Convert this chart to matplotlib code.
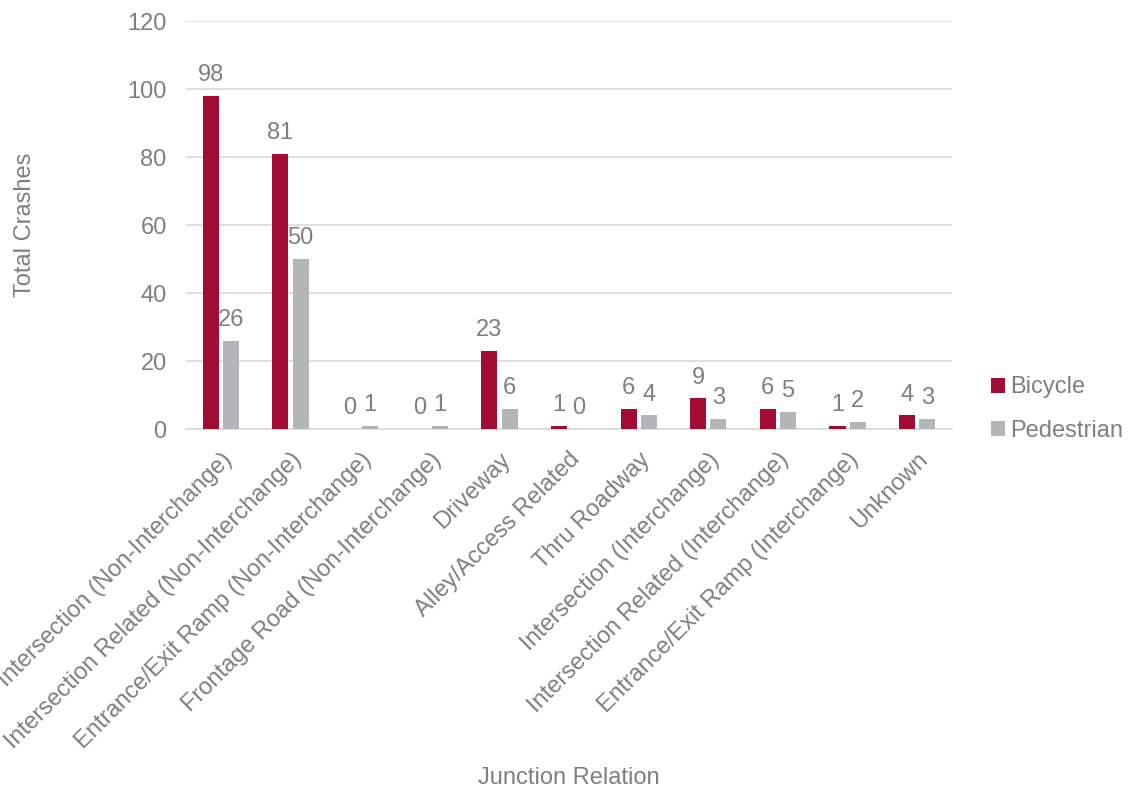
import matplotlib.pyplot as plt
import numpy as np

plt.rcParams['font.family'] = ['Liberation Sans', 'DejaVu Sans']

categories = ["Intersection (Non-Interchange)", "Intersection Related (Non-Interchange)",
              "Entrance/Exit Ramp (Non-Interchange)", "Frontage Road (Non-Interchange)",
              "Driveway", "Alley/Access Related", "Thru Roadway", "Intersection (Interchange)",
              "Intersection Related (Interchange)", "Entrance/Exit Ramp (Interchange)", "Unknown"]
bicycle = [98, 81, 0, 0, 23, 1, 6, 9, 6, 1, 4]
pedestrian = [26, 50, 1, 1, 6, 0, 4, 3, 5, 2, 3]

c_bike = "#A20C33"
c_ped = "#B4B5B9"
txt = "#7F7F7F"
grid = "#D9D9D9"
fs = 17

fig = plt.figure(figsize=(11.28, 7.93), dpi=100)
ax = fig.add_axes([0.165, 0.459, 0.679, 0.5145])

x = np.arange(len(categories))
w = 0.23
b1 = ax.bar(x - 0.145, bicycle, w, color=c_bike, label="Bicycle", zorder=3)
b2 = ax.bar(x + 0.145, pedestrian, w, color=c_ped, label="Pedestrian", zorder=3)

# value labels above each bar
for bars in (b1, b2):
    for r in bars:
        ax.annotate(str(int(r.get_height())), (r.get_x() + r.get_width() / 2, r.get_height()),
                    xytext=(0, 7), textcoords="offset points", ha="center", va="bottom",
                    fontsize=fs, color=txt)

ax.set_xlim(-0.5, len(categories) - 0.5)
ax.set_ylim(0, 120)
ax.set_yticks(range(0, 121, 20))
ax.yaxis.grid(True, color=grid, linewidth=1.2, zorder=0)
ax.set_axisbelow(True)
for s in ("top", "right", "left"):
    ax.spines[s].set_visible(False)
ax.spines["bottom"].set_color(grid)
ax.spines["bottom"].set_linewidth(1.2)
ax.tick_params(length=0, labelsize=fs, labelcolor=txt)
ax.tick_params(axis="y", pad=14)
ax.tick_params(axis="x", pad=14)
ax.set_xticks(x)
ax.set_xticklabels(categories, rotation=45, ha="right", rotation_mode="anchor")

ax.set_ylabel("Total Crashes", fontsize=fs, color=txt, va="center")
ax.yaxis.set_label_coords(25 / 1128, 1 - 225 / 793, transform=fig.transFigure)
ax.set_xlabel("Junction Relation", fontsize=fs, color=txt, va="center")
ax.xaxis.set_label_coords(569 / 1128, 1 - 778 / 793, transform=fig.transFigure)

ax.legend(loc="center left", bbox_to_anchor=(0.8786, 0.4842), bbox_transform=fig.transFigure,
          frameon=False, fontsize=fs, labelcolor=txt, handlelength=0.6, handleheight=0.6,
          handletextpad=0.2, labelspacing=0.9, borderpad=0, borderaxespad=0)

fig.savefig("out.png", dpi=100)
